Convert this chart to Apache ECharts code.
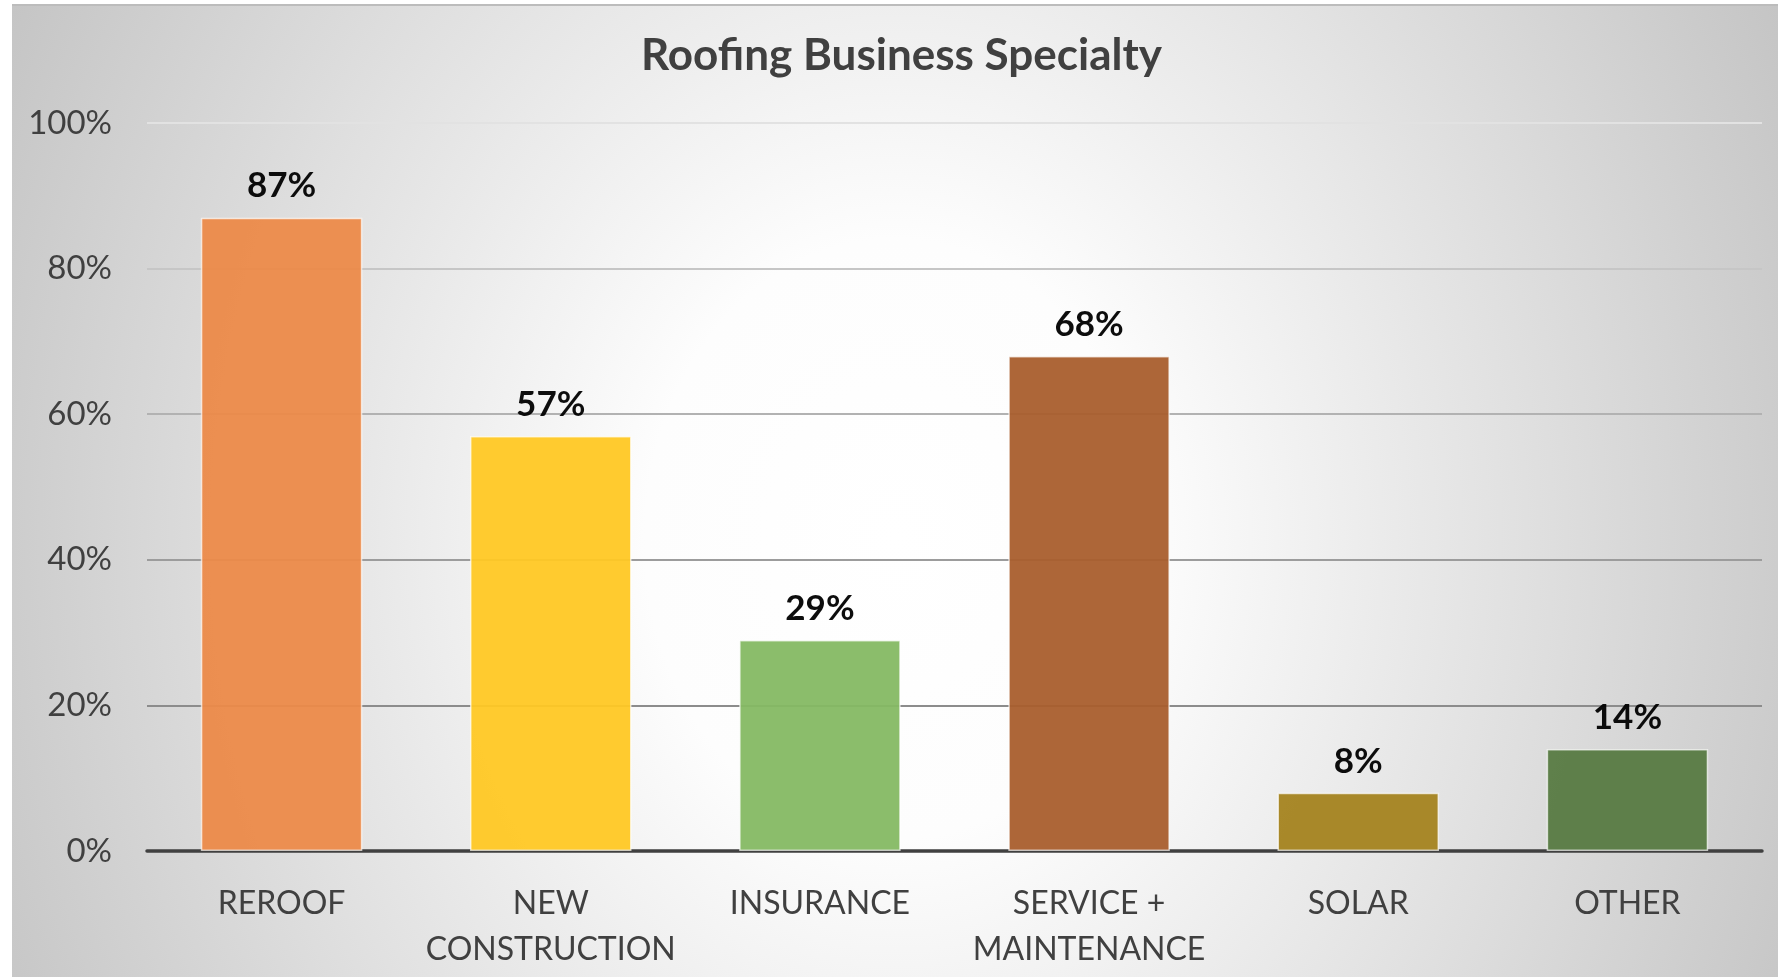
<!DOCTYPE html>
<html>
<head>
<meta charset="utf-8">
<title>Roofing Business Specialty</title>
<script src="https://cdn.jsdelivr.net/npm/echarts@6/dist/echarts.min.js"></script>
<style>
  html, body { margin: 0; padding: 0; background: #ffffff; overflow: hidden; }
  #chart {
    position: absolute; left: 12px; top: 4px; width: 1766px; height: 973px;
    background: radial-gradient(ellipse 1000px 1200px at 50% 55%, #ffffff 0%, #fdfdfd 25%, #c4c4c4 100%);
  }
</style>
</head>
<body>
<div id="chart"></div>
<script>
// Share of roofing businesses offering each specialty (percent)
const categories = ['REROOF', 'NEW\nCONSTRUCTION', 'INSURANCE', 'SERVICE +\nMAINTENANCE', 'SOLAR', 'OTHER'];
const shares = [87, 57, 29, 68, 8, 14];
const barColors = ['#ec8a49', '#ffc824', '#85b963', '#a95e2d', '#a4831f', '#577a42'];
const yTicks = { min: 0, max: 100, interval: 20 };

const chart = echarts.init(document.getElementById('chart'), null, { renderer: 'canvas' });

const textColor = '#404040';
const font = 'Lato, "Open Sans", sans-serif';

chart.setOption({
  backgroundColor: 'transparent',
  animation: false,
  title: {
    text: 'Roofing Business Specialty',
    left: 624,
    top: 25,
    textStyle: { fontFamily: font, fontWeight: 'bold', fontSize: 44, color: textColor }
  },
  graphic: [{
    type: 'rect',
    shape: { x: 0, y: 0, width: 1766, height: 2 },
    style: { fill: '#bcbcbc' },
    silent: true
  }],
  grid: { left: 135, right: 16, top: 119, bottom: 126 },
  xAxis: {
    type: 'category',
    data: categories,
    axisTick: { show: false },
    axisLine: { lineStyle: { color: '#404040', width: 3.5 } },
    axisLabel: {
      margin: 30,
      fontFamily: font,
      fontSize: 32,
      lineHeight: 46,
      color: textColor,
      interval: 0,
      verticalAlign: 'top'
    }
  },
  yAxis: {
    type: 'value',
    min: yTicks.min,
    max: yTicks.max,
    interval: yTicks.interval,
    axisLine: { show: false },
    axisTick: { show: false },
    splitLine: {
      lineStyle: {
        color: ['#404040', '#8c8c8c', '#9c9c9c', '#b2b2b2', '#c6c6c6', '#e2e2e2'],
        width: 2
      }
    },
    axisLabel: {
      margin: 35,
      formatter: '{value}%',
      fontFamily: font,
      fontSize: 33,
      color: textColor
    }
  },
  series: [{
    type: 'bar',
    data: shares.map((v, i) => ({ value: v, itemStyle: { color: barColors[i] } })),
    barWidth: '60%',
    itemStyle: { opacity: 0.95, borderColor: 'rgba(255,255,255,0.7)', borderWidth: 1.5 },
    label: {
      show: true,
      position: 'top',
      distance: 14,
      formatter: '{c}%',
      fontFamily: font,
      fontWeight: 'bold',
      fontSize: 35,
      color: '#000000'
    }
  }]
});
</script>
</body>
</html>
